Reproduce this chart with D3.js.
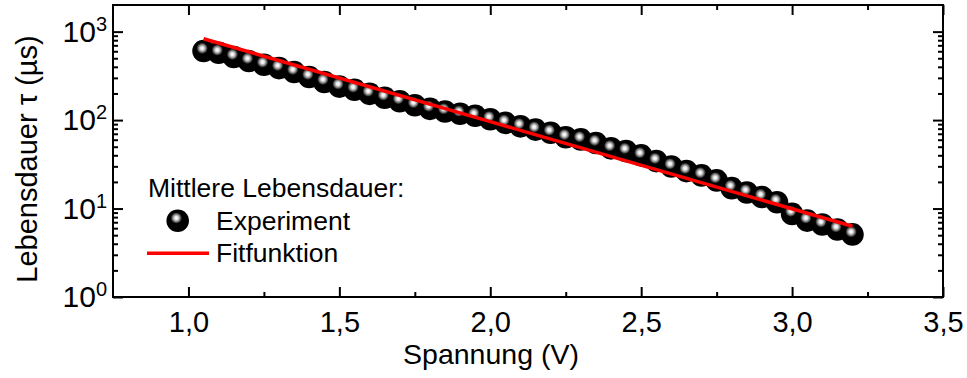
<!DOCTYPE html>
<html>
<head>
<meta charset="utf-8">
<script src="https://cdn.jsdelivr.net/npm/d3@7"></script>
<style>
  body { margin: 0; background: #fff; }
  svg { display: block; font-family: "Liberation Sans", Arial, sans-serif; }
</style>
</head>
<body>
<svg id="chart" width="967" height="378"></svg>
<script>
const voltage = [1.05, 1.10, 1.15, 1.20, 1.25, 1.30, 1.35, 1.40, 1.45, 1.50,
                 1.55, 1.60, 1.65, 1.70, 1.75, 1.80, 1.85, 1.90, 1.95, 2.00,
                 2.05, 2.10, 2.15, 2.20, 2.25, 2.30, 2.35, 2.40, 2.45, 2.50,
                 2.55, 2.60, 2.65, 2.70, 2.75, 2.80, 2.85, 2.90, 2.95, 3.00,
                 3.05, 3.10, 3.15, 3.20]
const lifetime = [604, 577, 516, 465, 422, 387, 349, 307, 269, 239,
                  220, 198, 179, 163, 147, 134, 125, 118, 112, 102,
                  93, 85, 78, 72, 64, 60.5, 55, 47.9, 44.6, 39.9,
                  34.4, 29.9, 26.5, 23.7, 20.8, 17.0, 15.2, 13.5, 11.8, 8.7,
                  7.3, 6.6, 5.8, 5.1]

// fit curve, read at its ends and middle
const fitVoltage = [1.05, 2.0, 3.20]
const fitLifetime = [830, 96, 6.3]

const xTicks = [1.0, 1.5, 2.0, 2.5, 3.0, 3.5]
const xMinorTicks = [1.25, 1.75, 2.25, 2.75, 3.25]
const yTicks = [1, 10, 100, 1000]
const yExponents = ["0", "1", "2", "3"]
const yMinorTicks = [2, 3, 4, 5, 6, 7, 8, 9, 20, 30, 40, 50, 60, 70, 80, 90,
                     200, 300, 400, 500, 600, 700, 800, 900]

const legendTitle = "Mittlere Lebensdauer:"
const legendLabels = ["Experiment", "Fitfunktion"]
const xTitle = "Spannung (V)"
const yTitle = "Lebensdauer \u03c4 (\u00b5s)"

const plotL = 113, plotR = 943, plotT = 5, plotB = 297

const svg = d3.select("#chart")

const x = d3.scaleLinear().domain([0.75, 3.5]).range([plotL, plotR])
const y = d3.scaleLog().domain([1, 2000]).range([plotB, plotT])

// shaded ball marker
let grad = svg.append("defs").append("radialGradient")
  .attr("id", "ball")
  .attr("cx", 0.44).attr("cy", 0.38).attr("r", 0.25)
  .attr("fx", 0.44).attr("fy", 0.38)
grad.append("stop").attr("offset", 0).attr("stop-color", "#ffffff")
grad.append("stop").attr("offset", 0.3).attr("stop-color", "#e8e8e8")
grad.append("stop").attr("offset", 0.7).attr("stop-color", "#707070")
grad.append("stop").attr("offset", 1).attr("stop-color", "#000000")

// data points
svg.append("g").selectAll("circle")
  .data(voltage)
  .join("circle")
  .attr("cx", d => x(d))
  .attr("cy", (d, i) => y(lifetime[i]))
  .attr("r", 11.3)
  .attr("fill", "url(#ball)")

// fit line
let line = d3.line()
  .x(d => x(d))
  .y((d, i) => y(fitLifetime[i]))
svg.append("path")
  .attr("d", line(fitVoltage))
  .attr("fill", "none")
  .attr("stroke", "#ff0000")
  .attr("stroke-width", 3.5)

// axes, ticks pointing inwards on all four sides
let fmt = d => d3.format(".1f")(d).replace(".", ",")

function styleAxis(g) {
  g.select(".domain").remove()
  g.selectAll("line").attr("stroke", "#000").attr("stroke-width", 2)
  g.selectAll("text").attr("fill", "#000").attr("font-size", 29)
    .attr("font-family", "Liberation Sans, Arial, sans-serif")
}

svg.append("g").attr("transform", `translate(0,${plotB})`)
  .call(d3.axisBottom(x).tickValues(xTicks).tickSize(-10).tickPadding(14).tickFormat(fmt))
  .call(styleAxis)
svg.append("g").attr("transform", `translate(0,${plotB})`)
  .call(d3.axisBottom(x).tickValues(xMinorTicks).tickSize(-5).tickFormat(""))
  .call(styleAxis)
svg.append("g").attr("transform", `translate(0,${plotT})`)
  .call(d3.axisTop(x).tickValues(xTicks).tickSize(-10).tickFormat(""))
  .call(styleAxis)
svg.append("g").attr("transform", `translate(0,${plotT})`)
  .call(d3.axisTop(x).tickValues(xMinorTicks).tickSize(-5).tickFormat(""))
  .call(styleAxis)

svg.append("g").attr("transform", `translate(${plotL},0)`)
  .call(d3.axisLeft(y).tickValues(yTicks).tickSize(-10).tickFormat(""))
  .call(styleAxis)
svg.append("g").attr("transform", `translate(${plotL},0)`)
  .call(d3.axisLeft(y).tickValues(yMinorTicks).tickSize(-5).tickFormat(""))
  .call(styleAxis)
svg.append("g").attr("transform", `translate(${plotR},0)`)
  .call(d3.axisRight(y).tickValues(yTicks).tickSize(-10).tickFormat(""))
  .call(styleAxis)
svg.append("g").attr("transform", `translate(${plotR},0)`)
  .call(d3.axisRight(y).tickValues(yMinorTicks).tickSize(-5).tickFormat(""))
  .call(styleAxis)

// y tick labels as powers of ten
let yl = svg.append("g").attr("font-size", 30).attr("text-anchor", "end")
yTicks.forEach((v, i) => {
  let t = yl.append("text")
    .attr("x", plotL - 6)
    .attr("y", y(v) + 10)
  t.append("tspan").text("10")
  t.append("tspan").attr("dy", -11).attr("font-size", 20).text(yExponents[i])
})

// frame
svg.append("rect")
  .attr("x", plotL).attr("y", plotT)
  .attr("width", plotR - plotL).attr("height", plotB - plotT)
  .attr("fill", "none").attr("stroke", "#000").attr("stroke-width", 2)

// axis titles
svg.append("text")
  .attr("x", 491).attr("y", 364)
  .attr("text-anchor", "middle").attr("font-size", 28.5)
  .text(xTitle)
svg.append("text")
  .attr("transform", `translate(37,159) rotate(-90)`)
  .attr("text-anchor", "middle").attr("font-size", 29)
  .text(yTitle)

// legend
let lg = svg.append("g").attr("font-size", 26.5)
lg.append("text").attr("x", 148).attr("y", 197).text(legendTitle)
lg.append("circle").attr("cx", 177.7).attr("cy", 220.7).attr("r", 11.3).attr("fill", "url(#ball)")
lg.append("text").attr("x", 216).attr("y", 230).text(legendLabels[0])
lg.append("line")
  .attr("x1", 147).attr("x2", 209).attr("y1", 253.3).attr("y2", 253.3)
  .attr("stroke", "#ff0000").attr("stroke-width", 3.5)
lg.append("text").attr("x", 216).attr("y", 262).text(legendLabels[1])
</script>
</body>
</html>
